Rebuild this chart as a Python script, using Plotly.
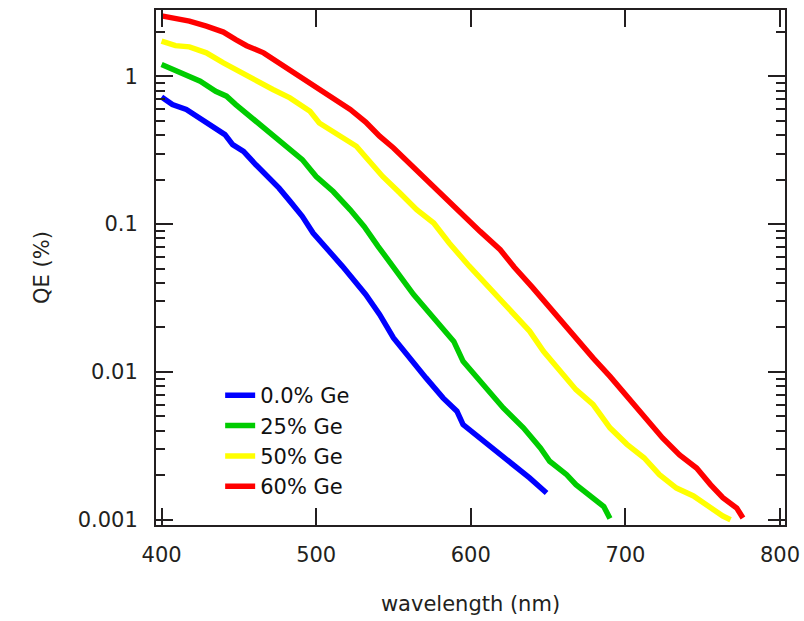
import plotly.graph_objects as go

# Quantum efficiency (%) versus wavelength (nm) for four Ge fractions
wl_ge0 = [400, 407, 416, 425, 433, 441, 446, 453, 461, 470, 476, 483, 491, 498, 504, 513, 517,
          532, 541, 550, 560, 571, 582, 591, 595, 606, 617, 627, 638, 649]
qe_ge0 = [0.724, 0.643, 0.596, 0.522, 0.458, 0.403, 0.345, 0.310, 0.252, 0.205, 0.175, 0.143, 0.113,
          0.0871, 0.0745, 0.0589, 0.0518, 0.0334, 0.0245, 0.0170, 0.01245, 0.00912, 0.00668,
          0.00543, 0.00441, 0.00358, 0.00291, 0.00236, 0.00192, 0.00152]

wl_ge25 = [400, 407, 416, 425, 435, 442, 448, 457, 466, 474, 483, 491, 500, 511, 522, 531, 540,
           550, 563, 576, 589, 595, 608, 621, 634, 645, 651, 662, 668, 677, 686, 690]
qe_ge25 = [1.20, 1.11, 1.027, 0.925, 0.791, 0.733, 0.643, 0.536, 0.458, 0.383, 0.319, 0.273, 0.210,
           0.166, 0.125, 0.0964, 0.0708, 0.0507, 0.0334, 0.0232, 0.0161, 0.0118, 0.00822,
           0.00571, 0.00419, 0.00306, 0.00249, 0.00202, 0.00173, 0.00145, 0.00123, 0.00102]

wl_ge50 = [400, 409, 418, 429, 440, 450, 461, 472, 483, 496, 502, 515, 526, 532, 543, 554, 565,
           576, 586, 599, 614, 627, 638, 647, 658, 668, 679, 690, 701, 712, 722, 733, 744, 755,
           763, 768]
qe_ge50 = [1.73, 1.61, 1.58, 1.44, 1.23, 1.08, 0.925, 0.813, 0.714, 0.579, 0.483, 0.393, 0.336,
           0.284, 0.210, 0.163, 0.125, 0.1016, 0.0745, 0.0519, 0.0352, 0.0245, 0.0189, 0.0138,
           0.0101, 0.00759, 0.00603, 0.00419, 0.00324, 0.00263, 0.00202, 0.00164, 0.00145,
           0.00120, 0.00106, 0.00100]

wl_ge60 = [400, 409, 418, 429, 440, 448, 455, 466, 476, 487, 500, 511, 522, 532, 541, 550, 560,
           573, 584, 595, 606, 619, 628, 640, 651, 667, 679, 690, 701, 712, 724, 735, 746, 755,
           763, 772, 776]
qe_ge60 = [2.56, 2.45, 2.36, 2.18, 1.99, 1.77, 1.61, 1.44, 1.23, 1.027, 0.834, 0.714, 0.596, 0.49,
           0.393, 0.327, 0.259, 0.190, 0.150, 0.116, 0.0893, 0.0671, 0.0513, 0.0372, 0.0272,
           0.0170, 0.01245, 0.00933, 0.00685, 0.00513, 0.00358, 0.00275, 0.00224, 0.00173,
           0.00141, 0.00120, 0.00103]

series = [
    ("0.0% Ge", wl_ge0, qe_ge0, "#0000FF"),
    ("25% Ge", wl_ge25, qe_ge25, "#00CC00"),
    ("50% Ge", wl_ge50, qe_ge50, "#FFFF00"),
    ("60% Ge", wl_ge60, qe_ge60, "#FF0000"),
]

x_ticks = [400, 500, 600, 700, 800]
y_ticks = [0.001, 0.01, 0.1, 1]
y_tick_text = ["0.001", "0.01", "0.1", "1"]
y_minor = [m * 10.0 ** e for e in (-3, -2, -1) for m in range(2, 10)] + [2.0]

FONT = "DejaVu Sans, Liberation Sans, Arial, sans-serif"
INK = "#231f20"
FS = 21

fig = go.Figure()
for i, (name, wl, qe, color) in enumerate(series):
    fig.add_trace(go.Scatter(
        x=wl, y=qe, mode="lines", name=name, legendgroup=f"g{i}",
        line=dict(color=color, width=5.5, shape="linear"),
    ))

axis_common = dict(
    showline=True, linecolor=INK, linewidth=2, mirror="allticks",
    ticks="inside", ticklen=17, tickwidth=2, tickcolor=INK,
    showgrid=False, zeroline=False, automargin=False,
    tickfont=dict(family=FONT, size=FS, color=INK),
    title_font=dict(family=FONT, size=FS, color=INK),
)

fig.update_layout(
    width=804, height=621,
    margin=dict(l=156, r=19, t=10, b=96),
    paper_bgcolor="white", plot_bgcolor="white",
    font=dict(family=FONT, size=FS, color=INK),
    showlegend=True,
    legend=dict(
        x=0.102, y=0.291, xanchor="left", yanchor="top",
        bgcolor="rgba(0,0,0,0)", borderwidth=0,
        font=dict(family=FONT, size=FS, color="#111"),
        tracegroupgap=0, traceorder="grouped",
    ),
    xaxis=dict(
        axis_common, range=[396.4, 803.2], tickmode="array", tickvals=x_ticks,
        ticklabelstandoff=10,
        title=dict(text="wavelength (nm)", standoff=30),
    ),
    yaxis=dict(
        axis_common, type="log", range=[-3.035, 0.448],
        tickmode="array", tickvals=y_ticks, ticktext=y_tick_text,
        ticklabelstandoff=12,
        minor=dict(ticks="inside", ticklen=9, tickwidth=2, tickcolor=INK,
                   tickmode="array", tickvals=y_minor, showgrid=False),
        title=dict(text="QE (%)", standoff=22),
    ),
)

fig.write_html("out.html")
